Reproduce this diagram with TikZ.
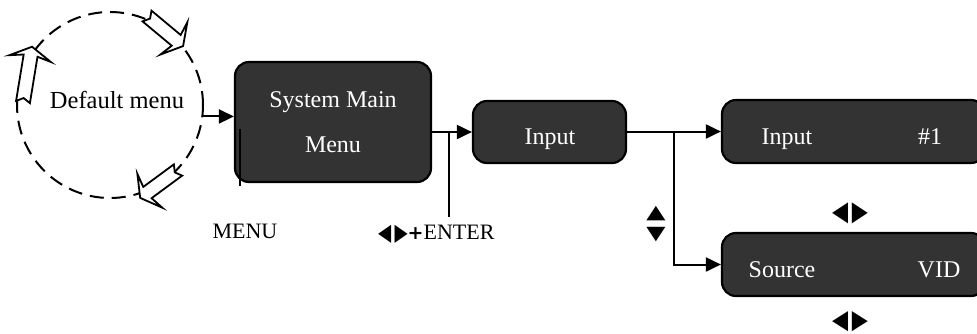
\documentclass[tikz,border=0pt]{standalone}
\usepackage{fontspec}
\setmainfont{Liberation Serif}
\newfontfamily\symfont{DejaVu Sans}
\usetikzlibrary{arrows.meta,calc}
\definecolor{boxgray}{HTML}{333333}
\newcommand{\hollowarr}[3]{%
  \begin{scope}[shift={#1}, rotate=#2]
    \draw[holarr] (0,-7) -- ({#3-9},-7) -- ({#3-12},-21) -- (#3,0) -- ({#3-12},21) -- ({#3-9},7) -- (0,7) -- (4,0) -- cycle;
  \end{scope}}
\begin{document}
\begin{tikzpicture}[x=1pt,y=-1pt,
  box/.style={draw=black, line width=2.2pt, fill=boxgray, rounded corners=14pt, inner sep=0pt},
  boxtext/.style={text=white, font=\fontsize{24}{28}\selectfont, inner sep=0pt, anchor=base},
  conn/.style={line width=2pt},
  arr/.style={conn, -{Triangle[length=15pt,width=14pt]}},
  lbl/.style={font=\fontsize{22}{26}\selectfont, inner sep=0pt, anchor=base},
  sym/.style={font=\symfont\fontsize{22}{24}\selectfont, inner sep=0pt},
  holarr/.style={draw=black, fill=white, line width=1.8pt, line join=miter}
]
\useasboundingbox (0,0) rectangle (977,333);
\clip (0,0) rectangle (977,333);

% default menu circle
\node[circle, draw, line width=2pt, dash pattern=on 14pt off 8pt, minimum size=186pt, inner sep=0pt] (dm) at (110,105) {};
\node[lbl, font=\fontsize{24.5}{28}\selectfont, anchor=base] (dmt) at (117,108) {Default menu};

\hollowarr{(147,16)}{-39.8}{47}
\hollowarr{(23,102)}{80.7}{56}
\hollowarr{(178,170)}{-143.6}{47}

% boxes
\node[box, minimum width=196pt, minimum height=120pt] (smm) at (333,122) {};
\node[boxtext] (smm1) at (333,107) {System Main};
\node[boxtext] (smm2) at (333,152) {Menu};

\node[box, minimum width=153pt, minimum height=62pt] (inp) at (549.5,132) {};
\node[boxtext] (inpt) at (550,144) {Input};

\node[box, minimum width=263pt, minimum height=63pt] (in1) at (853.5,131.5) {};
\node[boxtext] (in1a) at (787,144) {Input};
\node[boxtext] (in1b) at (930,144) {\#1};

\node[box, minimum width=263pt, minimum height=63pt] (src) at (853.5,264.5) {};
\node[boxtext] (srca) at (782,277) {Source};
\node[boxtext] (srcb) at (939,277) {VID};

% labels
\node[lbl] (menu) at (245,238) {MENU};
\node[lbl, anchor=base west] (enter) at (378,239) {{\symfont\fontsize{19}{20}\selectfont\raisebox{-1pt}{\scalebox{0.9}[1.25]{◀}}\,\raisebox{-1pt}{\scalebox{0.9}[1.25]{▶}}\textbf{+}}ENTER};
\node[sym] (lr1) at (850,213) {\scalebox{0.95}[1.25]{◀}\,\scalebox{0.95}[1.25]{▶}};
\node[sym] (lr2) at (850,321.5) {\scalebox{0.95}[1.2]{◀}\,\scalebox{0.95}[1.2]{▶}};
\node[sym, font=\symfont\fontsize{20}{22}\selectfont] (up) at (656,214) {\scalebox{1.25}[0.95]{▲}};
\node[sym, font=\symfont\fontsize{20}{22}\selectfont] (dn) at (656,235) {\scalebox{1.25}[0.95]{▼}};

% connectors
\draw[arr] (dm.-7) -- (dm.-7 -| smm.west);
\coordinate (m1) at (240,129);
\coordinate (m2) at (240,186);
\draw[line width=1.6pt] (m1) -- (m2);

\draw[arr] (inp.west -| smm.east) -- (inp.west);
\coordinate (e1) at (449,132);
\coordinate (e2) at (449,217);
\draw[conn] (e1) -- (e2);

\draw[arr] (inp.east |- in1.west) -- (in1.west);
\coordinate (br) at (674,131.5);
\draw[arr] (br) |- (src.west);
\end{tikzpicture}
\end{document}
